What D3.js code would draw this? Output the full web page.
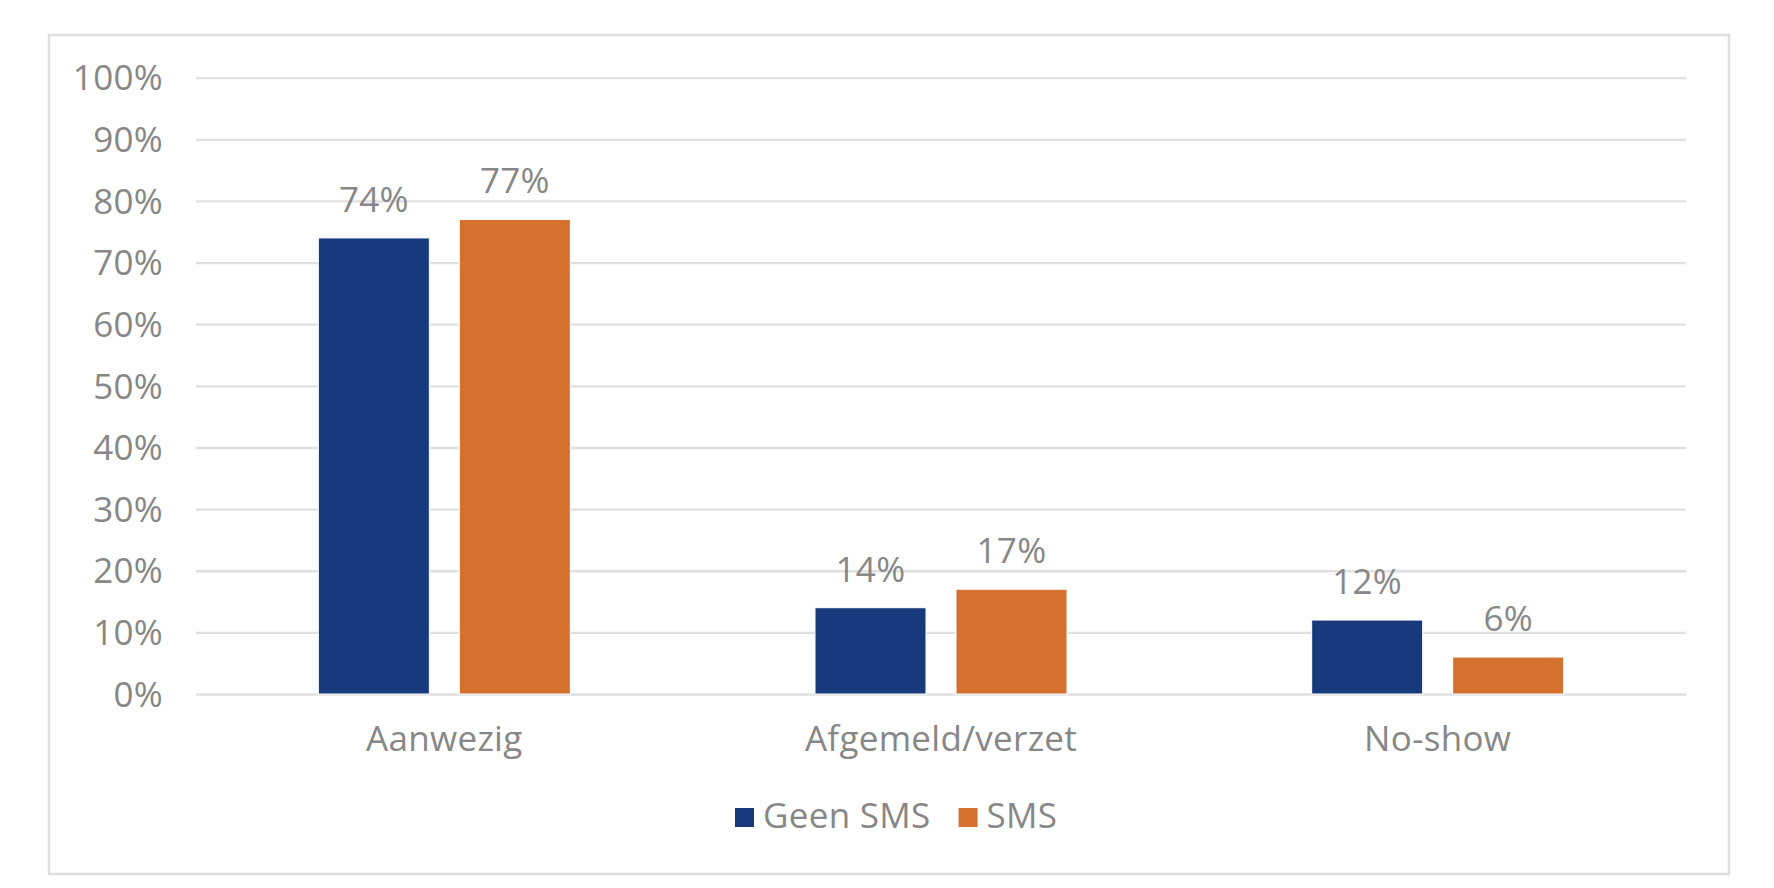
<!DOCTYPE html>
<html>
<head>
<meta charset="utf-8">
<script src="https://cdn.jsdelivr.net/npm/d3@7"></script>
<style>
  body { margin: 0; background: #fff; }
  svg text { font-family: "Open Sans", Lato, sans-serif; fill: #878787; letter-spacing: 0.3px; }
</style>
</head>
<body>
<svg id="chart" width="1774" height="888"></svg>
<script>
// chart data
var categories = ['Aanwezig', 'Afgemeld/verzet', 'No-show'];
var seriesNames = ['Geen SMS', 'SMS'];
var geenSmsValues = [74, 14, 12];
var smsValues = [77, 17, 6];
var yTicks = [0, 10, 20, 30, 40, 50, 60, 70, 80, 90, 100];
var seriesColours = ['#183a7d', '#d5712f'];

var fontSize = 35;
var svg = d3.select('#chart');

// outer frame round the whole chart
svg.append('rect')
  .attr('x', 49).attr('y', 35)
  .attr('width', 1680).attr('height', 839)
  .attr('fill', '#fff')
  .attr('stroke', '#dedede')
  .attr('stroke-width', 2.5);

var plot = { left: 196, right: 1686, top: 77.7, bottom: 694 };

var y = d3.scaleLinear().domain([0, 100]).range([plot.bottom, plot.top]);
var x0 = d3.scaleBand().domain(categories).range([plot.left, plot.right]).padding(0);
// two bars of 111px with a 30px gap, centred in each category
var x1 = d3.scaleBand().domain(seriesNames).range([0, 252]).paddingInner(30 / 141);
var groupOffset = (x0.bandwidth() - 252) / 2;

// gridlines and y tick labels
var yAxis = d3.axisLeft(y)
  .tickValues(yTicks)
  .tickSize(-(plot.right - plot.left))
  .tickPadding(33)
  .tickFormat(function(d) { return d + '%'; });

var yAxisG = svg.append('g')
  .attr('transform', 'translate(' + plot.left + ',0)')
  .call(yAxis);
yAxisG.select('.domain').remove();
yAxisG.selectAll('.tick line').attr('stroke', '#e0e0e0').attr('stroke-width', 2.3);
yAxisG.selectAll('.tick text')
  .attr('font-size', fontSize)
  .attr('dy', '0.35em')
  .style('fill', '#878787');

// build rows for the bars from the series arrays
var rows = categories.map(function(c, i) {
  return { category: c, values: [
    { series: seriesNames[0], value: geenSmsValues[i] },
    { series: seriesNames[1], value: smsValues[i] }
  ]};
});

var groups = svg.selectAll('g.group')
  .data(rows)
  .enter().append('g')
  .attr('class', 'group')
  .attr('transform', function(d) { return 'translate(' + (x0(d.category) + groupOffset) + ',0)'; });

groups.selectAll('rect')
  .data(function(d) { return d.values; })
  .enter().append('rect')
  .attr('x', function(d) { return x1(d.series); })
  .attr('y', function(d) { return y(d.value); })
  .attr('width', x1.bandwidth())
  .attr('height', function(d) { return plot.bottom - y(d.value); })
  .attr('fill', function(d, i) { return seriesColours[i]; })
  .attr('stroke', '#fff')
  .attr('stroke-width', 1);

// value labels above each bar
groups.selectAll('text.value')
  .data(function(d) { return d.values; })
  .enter().append('text')
  .attr('class', 'value')
  .attr('x', function(d) { return x1(d.series) + x1.bandwidth() / 2; })
  .attr('y', function(d) { return y(d.value) - 26; })
  .attr('text-anchor', 'middle')
  .attr('font-size', fontSize)
  .text(function(d) { return d.value + '%'; });

// category labels under the axis
var xAxis = d3.axisBottom(x0).tickSize(0).tickPadding(0);
var xAxisG = svg.append('g')
  .attr('transform', 'translate(0,' + plot.bottom + ')')
  .call(xAxis);
xAxisG.select('.domain').remove();
xAxisG.selectAll('.tick text')
  .attr('font-size', fontSize)
  .attr('y', 57)
  .attr('dy', 0)
  .style('fill', '#878787');

// legend, items laid out one after the other
var legend = svg.append('g').attr('class', 'legend');
var legendX = 735;
seriesNames.forEach(function(name, i) {
  legend.append('rect')
    .attr('x', legendX).attr('y', 808)
    .attr('width', 19).attr('height', 19)
    .attr('fill', seriesColours[i]);
  var label = legend.append('text')
    .attr('x', legendX + 28)
    .attr('y', 828)
    .attr('font-size', fontSize)
    .text(name);
  legendX += 28 + label.node().getComputedTextLength() + 28;
});
</script>
</body>
</html>
